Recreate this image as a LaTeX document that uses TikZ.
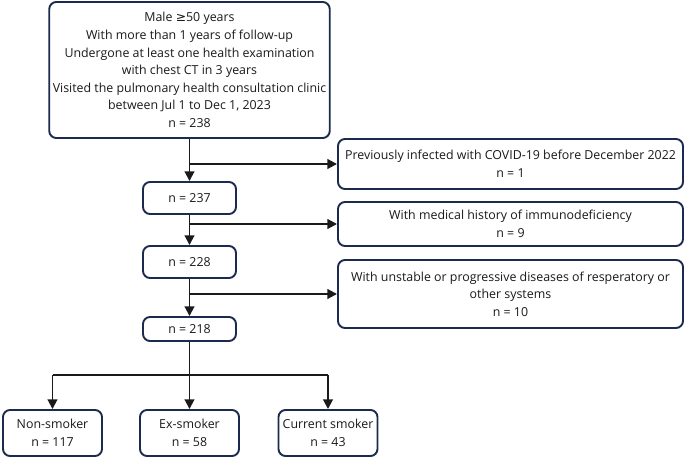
\documentclass[tikz,border=0pt]{standalone}
\usepackage{fontspec}
\setmainfont{Open Sans}
\newfontfamily\symfont{DejaVu Sans}
\usetikzlibrary{positioning, arrows.meta, calc}
\definecolor{flowNavy}{HTML}{1B2A4E}
\definecolor{flowInk}{HTML}{1A1A1A}

\begin{document}
\begin{tikzpicture}[
    fcBox/.style={draw=flowNavy, line width=1.1pt, rectangle, rounded corners=4pt, fill=white, text=flowInk, align=center, font=\fontsize{7.05}{10}\selectfont, inner sep=2pt},
    fcLine/.style={draw=flowInk, line width=1.1pt},
    fcArrow/.style={fcLine, -{Triangle[length=5.5pt, width=5.5pt]}},
]
\useasboundingbox (0,0) rectangle (13.7,-9.18);
% main column
\node[fcBox, minimum width=5.56cm, minimum height=2.72cm] (start) at (3.79,-1.40) {Male {\symfont ≥}50 years\\With more than 1 years of follow-up\\Undergone at least one health examination\\with chest CT in 3 years\\Visited the pulmonary health consultation clinic\\between Jul 1 to Dec 1, 2023\\n = 238};
\node[fcBox, minimum width=1.86cm, minimum height=0.64cm] (n237) at (3.79,-3.96) {n = 237};
\node[fcBox, minimum width=1.86cm, minimum height=0.64cm] (n228) at (3.79,-5.24) {n = 228};
\node[fcBox, minimum width=1.86cm, minimum height=0.48cm] (n218) at (3.79,-6.58) {n = 218};
% exclusions
\node[fcBox, minimum width=6.9cm, minimum height=1.0cm] (exclCovid) at (10.21,-3.28) {Previously infected with COVID-19 before December 2022\\n = 1};
\node[fcBox, minimum width=6.9cm, minimum height=0.88cm] (exclImmune) at (10.21,-4.48) {With medical history of immunodeficiency\\n = 9};
\node[fcBox, minimum width=6.9cm, minimum height=1.36cm] (exclDisease) at (10.21,-5.88) {With unstable or progressive diseases of resperatory or\\other systems\\n = 10};
% groups
\node[fcBox, minimum width=1.98cm, minimum height=0.92cm] (nonSmoker) at (1.05,-8.66) {Non-smoker\\n = 117};
\node[fcBox, minimum width=1.98cm, minimum height=0.92cm] (exSmoker) at (3.79,-8.66) {Ex-smoker\\n = 58};
\node[fcBox, minimum width=1.98cm, minimum height=0.92cm] (curSmoker) at (6.56,-8.66) {Current smoker\\n = 43};
\coordinate (split) at (3.79,-7.5);

\draw[fcArrow] (start) -- (n237);
\draw[fcArrow] (n237) -- (n228);
\draw[fcArrow] (n228) -- (n218);
\draw[fcArrow] (exclCovid.west -| n237.north) -- (exclCovid.west);
\draw[fcArrow] (exclImmune.west -| n237.north) -- (exclImmune.west);
\draw[fcArrow] (exclDisease.west -| n228.north) -- (exclDisease.west);
\draw[fcLine] (n218.south) -- (split);
\draw[fcLine] (nonSmoker.north |- split) -- (curSmoker.north |- split);
\foreach \grp in {nonSmoker, exSmoker, curSmoker}
    \draw[fcArrow] (\grp.north |- split) -- (\grp.north);
\end{tikzpicture}
\end{document}
